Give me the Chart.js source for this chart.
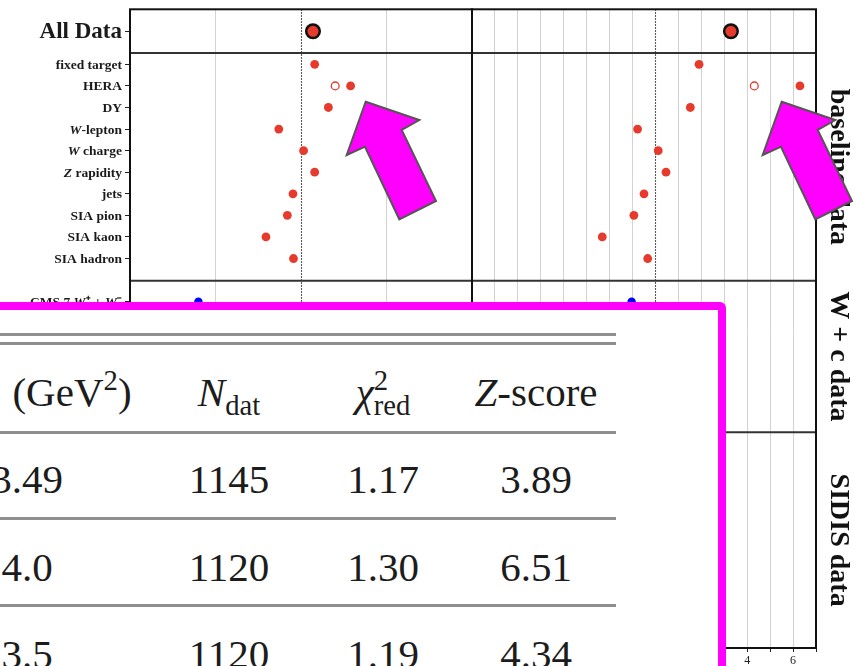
<!DOCTYPE html>
<html>
<head>
<meta charset="utf-8">
<script src="https://cdn.jsdelivr.net/npm/chart.js@4.4.1/dist/chart.umd.min.js"></script>
<style>
  html, body { margin: 0; padding: 0; background: #fff; }
  #stage { position: relative; width: 854px; height: 666px; overflow: hidden; background: #fff; }
  #stage canvas { position: absolute; top: 0; }
  #cL { left: 0; }
  #cR { left: 460px; }
  #tblBox { position: absolute; left: -40px; top: 302px; width: 766px; height: 420px;
            border: 8px solid #ff00ff; border-radius: 6px; background: #fff; box-sizing: border-box; }
  #tblLayer { position: absolute; left: 0; top: 0; width: 854px; height: 666px; }
  .rule { position: absolute; left: 0; width: 616px; height: 3px; background: #8e8e8e; }
  .cell { position: absolute; transform: translateX(-50%); white-space: nowrap;
          font: 41px "Liberation Serif", serif; line-height: 41px; color: #1c1c1c; }
  .sup { position: relative; top: -0.55em; font-size: 0.7em; }
  .sub { position: relative; top: 0.32em; font-size: 0.7em; }
  .stk { margin-left: -0.5em; }
  #arrows { position: absolute; left: 0; top: 0; }
</style>
</head>
<body>
<div id="stage">
  <canvas id="cL" width="484" height="666"></canvas>
  <canvas id="cR" width="394" height="666"></canvas>
  <div id="tblBox"></div>
  <div id="tblLayer"></div>
  <svg id="arrows" width="854" height="666">
    <g id="arrowL">
      <polygon points="365.7,101.7 419.3,120 401.7,130 436,201 399.3,219.3 365,146.7 346.7,155"
               fill="#ff00ff" stroke="#555" stroke-width="2" stroke-linejoin="miter"/>
    </g>
    <use href="#arrowL" transform="translate(416,0)"/>
  </svg>
</div>

<script>
// ---- data ----------------------------------------------------------------
const topCategories = ['All Data'];
const topChi2 = [1.07];
const topZ = [3.29];

const baselineCategories = ['fixed target', 'HERA', 'DY', 'W-lepton', 'W charge',
                            'Z rapidity', 'jets', 'SIA pion', 'SIA kaon', 'SIA hadron'];
const baselineChi2 = [1.08, 1.29, 1.16, 0.87, 1.015, 1.08, 0.953, 0.92, 0.795, 0.956];
const baselineZ    = [1.90, 6.30, 1.52, -0.78, 0.12, 0.46, -0.50, -0.94, -2.32, -0.34];

// alternative HERA result (open marker)
const heraAltChi2 = [1.20];
const heraAltZ = [4.31];

const wcCategories = ['CMS 7 W⁺ + W⁻'];
const wcChi2 = [0.40];
const wcZ = [-1.04];

const sectionTitles = ['baseline data', 'W + c data', 'SIDIS data'];

const chi2TickLabels = ['0.0', '0.5', '1.0', '1.5', '2.0'];
const zTickLabels = ['-8', '-6', '-4', '-2', '0', '2', '4', '6'];

// summary table
const tableHeaders = [
  '(GeV<span class="sup">2</span>)',
  '<i>N</i><span class="sub">dat</span>',
  '<i>χ</i><span class="sup">2</span><span class="sub stk">red</span>',
  '<i>Z</i>-score'
];
const cutValues = ['3.49', '4.0', '3.5'];
const nDatValues = ['1145', '1120', '1120'];
const chi2RedValues = ['1.17', '1.30', '1.19'];
const zScoreValues = ['3.89', '6.51', '4.34'];

// ---- layout --------------------------------------------------------------
const RED = '#e53a2c';
const BLUE = '#0000ff';
const SERIF = '"Liberation Serif", serif';
const Y_EDGES = [0, 2.03, 12.58, 19.6, 29.6];   // section boundaries in row units
const FIRST_ROW = [1.02, 0.52, 0.97, 1.0];
const rowY = (s, i) => Y_EDGES[s] + FIRST_ROW[s] + i;
const heraIdx = baselineCategories.indexOf('HERA');

const rowLabels = [];
topCategories.forEach((t, i) => rowLabels.push({ text: t, y: rowY(0, i), size: 23 }));
baselineCategories.forEach((t, i) => rowLabels.push({ text: t, y: rowY(1, i), size: 13.5 }));
wcCategories.forEach((t, i) => rowLabels.push({ text: t, y: rowY(2, i), size: 13.5 }));
const rowPositions = rowLabels.map(r => r.y);

Chart.defaults.font.family = SERIF;

function datasets(top, base, alt, wc) {
  return [
    { data: top.map((v, i) => ({ x: v, y: rowY(0, i) })),
      pointRadius: 6.8, pointBackgroundColor: RED, pointBorderColor: '#111', pointBorderWidth: 2.5 },
    { data: base.map((v, i) => ({ x: v, y: rowY(1, i) })),
      pointRadius: 4.4, pointBackgroundColor: RED, pointBorderWidth: 0 },
    { data: alt.map(v => ({ x: v, y: rowY(1, heraIdx) })),
      pointRadius: 3.9, pointBackgroundColor: '#fff', pointBorderColor: RED, pointBorderWidth: 1.3 },
    { data: wc.map((v, i) => ({ x: v, y: rowY(2, i) })),
      pointRadius: 4.2, pointBackgroundColor: BLUE, pointBorderWidth: 0 }
  ];
}

function drawRichRight(ctx, text, xRight, y, size) {
  const parts = text.split(/(\b[WZ](?![A-Za-z]))/).filter(p => p !== '');
  const fonts = parts.map(p => (/^[WZ]$/.test(p) ? 'italic ' : '') + `bold ${size}px ${SERIF}`);
  const widths = parts.map((p, i) => { ctx.font = fonts[i]; return ctx.measureText(p).width; });
  let x = xRight - widths.reduce((a, b) => a + b, 0);
  ctx.textAlign = 'left';
  ctx.textBaseline = 'middle';
  ctx.fillStyle = '#1a1a1a';
  parts.forEach((p, i) => { ctx.font = fonts[i]; ctx.fillText(p, x, y + 1); x += widths[i]; });
}

function panelPlugin(refValue, withLabels, withTitles) {
  return {
    id: 'panelDecor',
    beforeDatasetsDraw(chart) {
      const { ctx, chartArea: a, scales: { x, y } } = chart;
      ctx.save();
      // reference line
      const xr = Math.round(x.getPixelForValue(refValue)) + 0.5;
      ctx.strokeStyle = '#222';
      ctx.lineWidth = 1.1;
      ctx.setLineDash([1.5, 1.5]);
      ctx.beginPath(); ctx.moveTo(xr, a.top); ctx.lineTo(xr, a.bottom); ctx.stroke();
      ctx.setLineDash([]);
      // section separators
      ctx.strokeStyle = '#333';
      ctx.lineWidth = 2;
      Y_EDGES.slice(1, -1).forEach(v => {
        const py = y.getPixelForValue(v);
        ctx.beginPath(); ctx.moveTo(a.left, py); ctx.lineTo(a.right, py); ctx.stroke();
      });
      // frame
      ctx.strokeStyle = '#111';
      ctx.strokeRect(a.left, a.top, a.right - a.left, a.bottom - a.top);
      ctx.restore();
    },
    afterDraw(chart) {
      const { ctx, chartArea: a, scales: { y } } = chart;
      ctx.save();
      if (withLabels) {
        rowLabels.forEach(r => drawRichRight(ctx, r.text, a.left - 8, y.getPixelForValue(r.y), r.size));
      }
      if (withTitles) {
        ctx.fillStyle = '#111';
        ctx.font = `bold 28px ${SERIF}`;
        ctx.textAlign = 'center';
        ctx.textBaseline = 'alphabetic';
        sectionTitles.forEach((t, s) => {
          const cy = y.getPixelForValue((Y_EDGES[s + 1] + Y_EDGES[s + 2]) / 2);
          ctx.save();
          ctx.translate(a.right + 15, cy);
          ctx.rotate(Math.PI / 2);
          ctx.fillText(t, 0, 0);
          ctx.restore();
        });
      }
      ctx.restore();
    }
  };
}

function makeChart(id, cfg) {
  const xScale = {
    type: 'linear', min: cfg.min, max: cfg.max,
    ticks: {
      stepSize: cfg.step, autoSkip: false, maxRotation: 0, padding: 2,
      color: '#222', font: { size: 12, family: SERIF },
      callback: cfg.tickCallback
    },
    grid: {
      color: c => (c.tick && Math.abs(c.tick.value - cfg.ref) < 1e-9) ? 'rgba(0,0,0,0)' : '#d2d2d2',
      lineWidth: 1, tickLength: 4, tickColor: '#222'
    },
    border: { display: false },
    afterFit: s => { s.height = 18; }
  };
  const yScale = {
    type: 'linear', reverse: true, min: Y_EDGES[0], max: Y_EDGES[Y_EDGES.length - 1],
    display: cfg.showY,
    afterBuildTicks: s => { s.ticks = rowPositions.map(v => ({ value: v })); },
    ticks: { display: false },
    grid: { drawOnChartArea: false, tickLength: 5, tickColor: '#222', color: '#222' },
    border: { display: false },
    afterFit: s => { s.width = cfg.showY ? 130 : 0; }
  };
  return new Chart(document.getElementById(id), {
    type: 'scatter',
    data: { datasets: cfg.datasets },
    options: {
      responsive: false, animation: false, devicePixelRatio: 1,
      layout: { padding: cfg.padding },
      plugins: { legend: { display: false }, tooltip: { enabled: false } },
      scales: { x: xScale, y: yScale }
    },
    plugins: [panelPlugin(cfg.ref, cfg.showY, !cfg.showY)]
  });
}

// left panel: reduced chi-square
makeChart('cL', {
  min: 0, max: 2, step: 0.5, ref: 1, showY: true,
  padding: { top: 8, right: 12, left: 0, bottom: 0 },
  tickCallback: v => chi2TickLabels.includes(v.toFixed(1)) ? v.toFixed(1) : '',
  datasets: datasets(topChi2, baselineChi2, heraAltChi2, wcChi2)
});

// right panel: Z-score
makeChart('cR', {
  min: -8, max: 7, step: 1, ref: 0, showY: false,
  padding: { top: 8, right: 38, left: 12, bottom: 0 },
  tickCallback: v => zTickLabels.includes(String(v)) ? String(v) : '',
  datasets: datasets(topZ, baselineZ, heraAltZ, wcZ)
});

// ---- table overlay --------------------------------------------------------
(function buildTable() {
  const layer = document.getElementById('tblLayer');
  const colX = [27, 229, 383, 536];
  const headY = 392, rowStep = 87.5;
  const rules = [334, 343, 432.5, 518.5, 605];
  rules.forEach(y => {
    const d = document.createElement('div');
    d.className = 'rule';
    d.style.top = (y - 1.5) + 'px';
    layer.appendChild(d);
  });
  const addCell = (html, x, cy) => {
    const d = document.createElement('div');
    d.className = 'cell';
    d.innerHTML = html;
    d.style.left = x + 'px';
    d.style.top = (cy - 20.5) + 'px';
    layer.appendChild(d);
  };
  tableHeaders.forEach((h, c) => addCell(h, c === 0 ? 72 : colX[c], headY));
  const cols = [cutValues, nDatValues, chi2RedValues, zScoreValues];
  cols.forEach((vals, c) => vals.forEach((v, r) => addCell(v, colX[c], headY + rowStep * (r + 1))));
})();
</script>
</body>
</html>
